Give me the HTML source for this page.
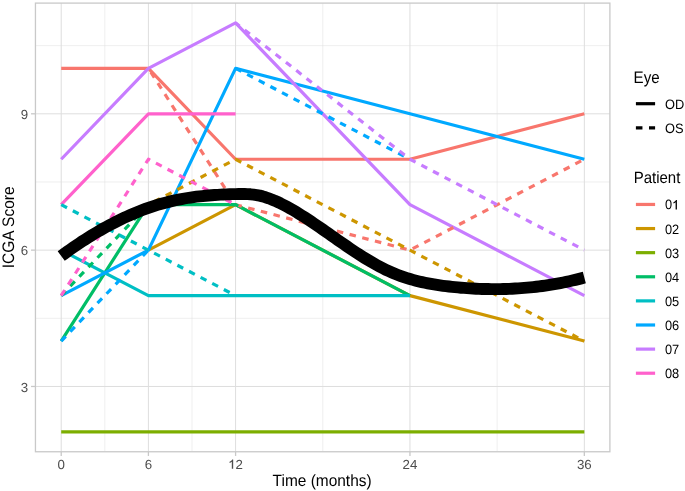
<!DOCTYPE html><html><head><meta charset="utf-8"><style>html,body{margin:0;padding:0;background:#fff}svg{display:block;will-change:transform}text{font-family:"Liberation Sans",sans-serif}</style></head><body>
<svg width="685" height="491" viewBox="0 0 685 491">
<rect width="685" height="491" fill="#fff"/>
<line x1="104.80" y1="3.1" x2="104.80" y2="451.75" stroke="#DEDEDE" stroke-width="0.5"/>
<line x1="191.99" y1="3.1" x2="191.99" y2="451.75" stroke="#DEDEDE" stroke-width="0.5"/>
<line x1="322.77" y1="3.1" x2="322.77" y2="451.75" stroke="#DEDEDE" stroke-width="0.5"/>
<line x1="497.14" y1="3.1" x2="497.14" y2="451.75" stroke="#DEDEDE" stroke-width="0.5"/>
<line x1="35.45" y1="318.30" x2="609.9" y2="318.30" stroke="#DEDEDE" stroke-width="0.5"/>
<line x1="35.45" y1="181.97" x2="609.9" y2="181.97" stroke="#DEDEDE" stroke-width="0.5"/>
<line x1="35.45" y1="45.63" x2="609.9" y2="45.63" stroke="#DEDEDE" stroke-width="0.5"/>
<line x1="61.21" y1="3.1" x2="61.21" y2="451.75" stroke="#DEDEDE" stroke-width="1"/>
<line x1="148.40" y1="3.1" x2="148.40" y2="451.75" stroke="#DEDEDE" stroke-width="1"/>
<line x1="235.58" y1="3.1" x2="235.58" y2="451.75" stroke="#DEDEDE" stroke-width="1"/>
<line x1="409.95" y1="3.1" x2="409.95" y2="451.75" stroke="#DEDEDE" stroke-width="1"/>
<line x1="584.33" y1="3.1" x2="584.33" y2="451.75" stroke="#DEDEDE" stroke-width="1"/>
<line x1="35.45" y1="386.47" x2="609.9" y2="386.47" stroke="#DEDEDE" stroke-width="1"/>
<line x1="35.45" y1="250.13" x2="609.9" y2="250.13" stroke="#DEDEDE" stroke-width="1"/>
<line x1="35.45" y1="113.80" x2="609.9" y2="113.80" stroke="#DEDEDE" stroke-width="1"/>
<path d="M61.21,68.35 L148.40,68.35 L235.58,159.25 L409.95,159.25 L584.33,113.80" fill="none" stroke="#F8766D" stroke-width="3.2" stroke-linejoin="round" stroke-linecap="butt"/>
<path d="M148.40,250.13 L235.58,204.69 L409.95,295.58 L584.33,341.02" fill="none" stroke="#CD9600" stroke-width="3.2" stroke-linejoin="round" stroke-linecap="butt"/>
<path d="M61.21,431.92 L148.40,431.92 L235.58,431.92 L409.95,431.92 L584.33,431.92" fill="none" stroke="#7CAE00" stroke-width="3.2" stroke-linejoin="round" stroke-linecap="butt"/>
<path d="M61.21,341.02 L148.40,204.69 L235.58,204.69 L409.95,295.58" fill="none" stroke="#00BE67" stroke-width="3.2" stroke-linejoin="round" stroke-linecap="butt"/>
<path d="M61.21,250.13 L148.40,295.58 L235.58,295.58 L409.95,295.58" fill="none" stroke="#00BFC4" stroke-width="3.2" stroke-linejoin="round" stroke-linecap="butt"/>
<path d="M61.21,295.58 L148.40,250.13 L235.58,68.35 L409.95,113.80 L584.33,159.25" fill="none" stroke="#00A9FF" stroke-width="3.2" stroke-linejoin="round" stroke-linecap="butt"/>
<path d="M61.21,159.25 L148.40,68.35 L235.58,22.91 L409.95,204.69 L584.33,295.58" fill="none" stroke="#C77CFF" stroke-width="3.2" stroke-linejoin="round" stroke-linecap="butt"/>
<path d="M61.21,204.69 L148.40,113.80 L235.58,113.80" fill="none" stroke="#FF61CC" stroke-width="3.2" stroke-linejoin="round" stroke-linecap="butt"/>
<path d="M148.40,68.35 L235.58,204.69 L409.95,250.13 L584.33,159.25" fill="none" stroke="#F8766D" stroke-width="3.2" stroke-linejoin="round" stroke-linecap="butt" stroke-dasharray="6.55 6.55" stroke-dashoffset="87.19"/>
<clipPath id="c02"><rect x="68" y="0" width="620" height="491"/></clipPath>
<path clip-path="url(#c02)" d="M61.21,250.13 L148.40,204.69 L235.58,159.25 L409.95,250.13 L584.33,341.02" fill="none" stroke="#CD9600" stroke-width="3.2" stroke-linejoin="round" stroke-linecap="butt" stroke-dasharray="6.55 6.55" stroke-dashoffset="0.00"/>
<clipPath id="c04"><rect x="229.58" y="198.69" width="12" height="12"/></clipPath>
<path clip-path="url(#c04)" d="M61.21,295.58 L148.40,204.69 L235.58,204.69 L409.95,295.58" fill="none" stroke="#00BE67" stroke-width="3.2" stroke-linejoin="round" stroke-linecap="butt" stroke-dasharray="6.55 6.55"/>
<path d="M61.21,295.58 L148.40,204.69" fill="none" stroke="#00BE67" stroke-width="3.2" stroke-linejoin="round" stroke-linecap="butt" stroke-dasharray="6.55 6.55" stroke-dashoffset="0.00"/>
<path d="M61.21,204.69 L148.40,250.13 L235.58,295.58" fill="none" stroke="#00BFC4" stroke-width="3.2" stroke-linejoin="round" stroke-linecap="butt" stroke-dasharray="6.55 6.55" stroke-dashoffset="0.00"/>
<path d="M61.21,341.02 L148.40,250.13" fill="none" stroke="#00A9FF" stroke-width="3.2" stroke-linejoin="round" stroke-linecap="butt" stroke-dasharray="6.55 6.55" stroke-dashoffset="0.00"/>
<path d="M235.58,68.35 L409.95,159.25" fill="none" stroke="#00A9FF" stroke-width="3.2" stroke-linejoin="round" stroke-linecap="butt" stroke-dasharray="6.55 6.55" stroke-dashoffset="327.55"/>
<path d="M235.58,22.91 L409.95,159.25 L584.33,250.13" fill="none" stroke="#C77CFF" stroke-width="3.2" stroke-linejoin="round" stroke-linecap="butt" stroke-dasharray="6.55 6.55" stroke-dashoffset="224.27"/>
<path d="M61.21,295.58 L148.40,159.25 L235.58,204.69" fill="none" stroke="#FF61CC" stroke-width="3.2" stroke-linejoin="round" stroke-linecap="butt" stroke-dasharray="6.55 6.55" stroke-dashoffset="0.00"/>
<path d="M61.21,256.04 L64.22,253.83 L67.22,251.65 L70.23,249.51 L73.24,247.41 L76.24,245.35 L79.25,243.32 L82.26,241.34 L85.26,239.39 L88.27,237.48 L91.27,235.61 L94.28,233.78 L97.29,231.99 L100.29,230.24 L103.30,228.53 L106.31,226.86 L109.31,225.23 L112.32,223.64 L115.33,222.09 L118.33,220.59 L121.34,219.12 L124.35,217.70 L127.35,216.32 L130.36,214.99 L133.36,213.69 L136.37,212.44 L139.38,211.24 L142.38,210.07 L145.39,208.95 L148.40,207.88 L151.40,206.85 L154.41,205.86 L157.42,204.92 L160.42,204.03 L163.43,203.18 L166.44,202.38 L169.44,201.62 L172.45,200.91 L175.45,200.24 L178.46,199.62 L181.47,199.04 L184.47,198.50 L187.48,198.00 L190.49,197.54 L193.49,197.12 L196.50,196.72 L199.51,196.37 L202.51,196.04 L205.52,195.74 L208.53,195.48 L211.53,195.24 L214.54,195.02 L217.54,194.83 L220.55,194.66 L223.56,194.51 L226.56,194.38 L229.57,194.27 L232.58,194.17 L235.58,194.09 L238.59,194.02 L241.60,193.99 L244.60,194.01 L247.61,194.11 L250.62,194.30 L253.62,194.61 L256.63,195.05 L259.63,195.64 L262.64,196.39 L265.65,197.28 L268.65,198.30 L271.66,199.44 L274.67,200.69 L277.67,202.04 L280.68,203.47 L283.69,204.99 L286.69,206.58 L289.70,208.23 L292.71,209.95 L295.71,211.73 L298.72,213.56 L301.72,215.44 L304.73,217.35 L307.74,219.31 L310.74,221.30 L313.75,223.32 L316.76,225.36 L319.76,227.43 L322.77,229.51 L325.78,231.60 L328.78,233.71 L331.79,235.81 L334.80,237.92 L337.80,240.03 L340.81,242.12 L343.82,244.21 L346.82,246.27 L349.83,248.32 L352.83,250.34 L355.84,252.34 L358.85,254.30 L361.85,256.22 L364.86,258.10 L367.87,259.94 L370.87,261.73 L373.88,263.47 L376.89,265.14 L379.89,266.76 L382.90,268.31 L385.91,269.79 L388.91,271.19 L391.92,272.52 L394.92,273.77 L397.93,274.95 L400.94,276.06 L403.94,277.11 L406.95,278.09 L409.96,279.01 L412.96,279.87 L415.97,280.67 L418.98,281.42 L421.98,282.12 L424.99,282.76 L428.00,283.37 L431.00,283.93 L434.01,284.44 L437.01,284.93 L440.02,285.37 L443.03,285.78 L446.03,286.16 L449.04,286.52 L452.05,286.85 L455.05,287.15 L458.06,287.44 L461.07,287.70 L464.07,287.94 L467.08,288.16 L470.09,288.36 L473.09,288.54 L476.10,288.69 L479.10,288.82 L482.11,288.93 L485.12,289.01 L488.12,289.07 L491.13,289.11 L494.14,289.13 L497.14,289.12 L500.15,289.08 L503.16,289.03 L506.16,288.94 L509.17,288.84 L512.18,288.71 L515.18,288.55 L518.19,288.37 L521.19,288.16 L524.20,287.93 L527.21,287.67 L530.21,287.38 L533.22,287.07 L536.23,286.74 L539.23,286.37 L542.24,285.98 L545.25,285.56 L548.25,285.12 L551.26,284.65 L554.27,284.15 L557.27,283.62 L560.28,283.06 L563.28,282.48 L566.29,281.87 L569.30,281.23 L572.30,280.56 L575.31,279.86 L578.32,279.13 L581.32,278.38 L584.33,277.59" fill="none" stroke="#000" stroke-width="11.9" stroke-linejoin="round" stroke-linecap="butt"/>
<rect x="35.45" y="3.1" width="574.45" height="448.65" fill="none" stroke="#C9C9C9" stroke-width="1.3"/>
<line x1="61.21" y1="451.75" x2="61.21" y2="455.95" stroke="#C8C8C8" stroke-width="1.3"/>
<line x1="148.40" y1="451.75" x2="148.40" y2="455.95" stroke="#C8C8C8" stroke-width="1.3"/>
<line x1="235.58" y1="451.75" x2="235.58" y2="455.95" stroke="#C8C8C8" stroke-width="1.3"/>
<line x1="409.95" y1="451.75" x2="409.95" y2="455.95" stroke="#C8C8C8" stroke-width="1.3"/>
<line x1="584.33" y1="451.75" x2="584.33" y2="455.95" stroke="#C8C8C8" stroke-width="1.3"/>
<line x1="31.05" y1="386.47" x2="35.45" y2="386.47" stroke="#C8C8C8" stroke-width="1.3"/>
<line x1="31.05" y1="250.13" x2="35.45" y2="250.13" stroke="#C8C8C8" stroke-width="1.3"/>
<line x1="31.05" y1="113.80" x2="35.45" y2="113.80" stroke="#C8C8C8" stroke-width="1.3"/>
<text text-rendering="geometricPrecision" transform="translate(61.21,468.7) scale(1.11,1.1)" font-size="12" fill="#4D4D4D" text-anchor="middle">0</text>
<text text-rendering="geometricPrecision" transform="translate(148.40,468.7) scale(1.11,1.1)" font-size="12" fill="#4D4D4D" text-anchor="middle">6</text>
<text text-rendering="geometricPrecision" transform="translate(409.95,468.7) scale(1.11,1.1)" font-size="12" fill="#4D4D4D" text-anchor="middle">24</text>
<text text-rendering="geometricPrecision" transform="translate(584.33,468.7) scale(1.11,1.1)" font-size="12" fill="#4D4D4D" text-anchor="middle">36</text>
<path transform="translate(228.174,468.700) scale(0.006504,-0.006445)" d="M770 0L560 0L560 1080Q500 1030 400 975Q300 925 215 900L215 1070Q370 1130 480 1225Q590 1320 630 1409L770 1409Z" fill="#4D4D4D"/>
<text text-rendering="geometricPrecision" transform="translate(235.58,468.7) scale(1.11,1.1)" font-size="12" fill="#4D4D4D">2</text>
<text text-rendering="geometricPrecision" transform="translate(28.2,391.57) scale(1.11,1.1)" font-size="12" fill="#4D4D4D" text-anchor="end">3</text>
<text text-rendering="geometricPrecision" transform="translate(28.2,255.23) scale(1.11,1.1)" font-size="12" fill="#4D4D4D" text-anchor="end">6</text>
<text text-rendering="geometricPrecision" transform="translate(28.2,118.90) scale(1.11,1.1)" font-size="12" fill="#4D4D4D" text-anchor="end">9</text>
<text text-rendering="geometricPrecision" transform="translate(272.61,485.9) scale(1.03,1.09)" font-size="15" fill="#000">Time (months)</text>
<text text-rendering="geometricPrecision" transform="translate(13.93,268.23) rotate(-90) scale(1.032,1.11)" font-size="15" fill="#000">ICGA Score</text>
<text text-rendering="geometricPrecision" transform="translate(633.57,82.85) scale(1.0075,1.12)" font-size="15" fill="#000">Eye</text>
<text text-rendering="geometricPrecision" transform="translate(633.68,183.0) scale(1.0,1.09)" font-size="15" fill="#000">Patient</text>
<line x1="635.9" y1="103.7" x2="655.1" y2="103.7" stroke="#000" stroke-width="3.2"/>
<text text-rendering="geometricPrecision" transform="translate(664.95,108.65) scale(1.07,1.13)" font-size="12" fill="#000">OD</text>
<line x1="635.9" y1="127.8" x2="655.1" y2="127.8" stroke="#000" stroke-width="3.2" stroke-dasharray="6.55 6.55"/>
<text text-rendering="geometricPrecision" transform="translate(664.95,132.75) scale(1.07,1.13)" font-size="12" fill="#000">OS</text>
<line x1="635.9" y1="204.45" x2="655.1" y2="204.45" stroke="#F8766D" stroke-width="3.2"/>
<text text-rendering="geometricPrecision" transform="translate(664.95,209.40) scale(1.07,1.13)" font-size="12" fill="#000">0</text>
<path transform="translate(672.091,209.400) scale(0.006270,-0.006621)" d="M770 0L560 0L560 1080Q500 1030 400 975Q300 925 215 900L215 1070Q370 1130 480 1225Q590 1320 630 1409L770 1409Z" fill="#000"/>
<line x1="635.9" y1="228.56" x2="655.1" y2="228.56" stroke="#CD9600" stroke-width="3.2"/>
<text text-rendering="geometricPrecision" transform="translate(664.95,233.51) scale(1.07,1.13)" font-size="12" fill="#000">02</text>
<line x1="635.9" y1="252.67" x2="655.1" y2="252.67" stroke="#7CAE00" stroke-width="3.2"/>
<text text-rendering="geometricPrecision" transform="translate(664.95,257.62) scale(1.07,1.13)" font-size="12" fill="#000">03</text>
<line x1="635.9" y1="276.78" x2="655.1" y2="276.78" stroke="#00BE67" stroke-width="3.2"/>
<text text-rendering="geometricPrecision" transform="translate(664.95,281.73) scale(1.07,1.13)" font-size="12" fill="#000">04</text>
<line x1="635.9" y1="300.89" x2="655.1" y2="300.89" stroke="#00BFC4" stroke-width="3.2"/>
<text text-rendering="geometricPrecision" transform="translate(664.95,305.84) scale(1.07,1.13)" font-size="12" fill="#000">05</text>
<line x1="635.9" y1="325.00" x2="655.1" y2="325.00" stroke="#00A9FF" stroke-width="3.2"/>
<text text-rendering="geometricPrecision" transform="translate(664.95,329.95) scale(1.07,1.13)" font-size="12" fill="#000">06</text>
<line x1="635.9" y1="349.11" x2="655.1" y2="349.11" stroke="#C77CFF" stroke-width="3.2"/>
<text text-rendering="geometricPrecision" transform="translate(664.95,354.06) scale(1.07,1.13)" font-size="12" fill="#000">07</text>
<line x1="635.9" y1="373.22" x2="655.1" y2="373.22" stroke="#FF61CC" stroke-width="3.2"/>
<text text-rendering="geometricPrecision" transform="translate(664.95,378.17) scale(1.07,1.13)" font-size="12" fill="#000">08</text>
</svg></body></html>
